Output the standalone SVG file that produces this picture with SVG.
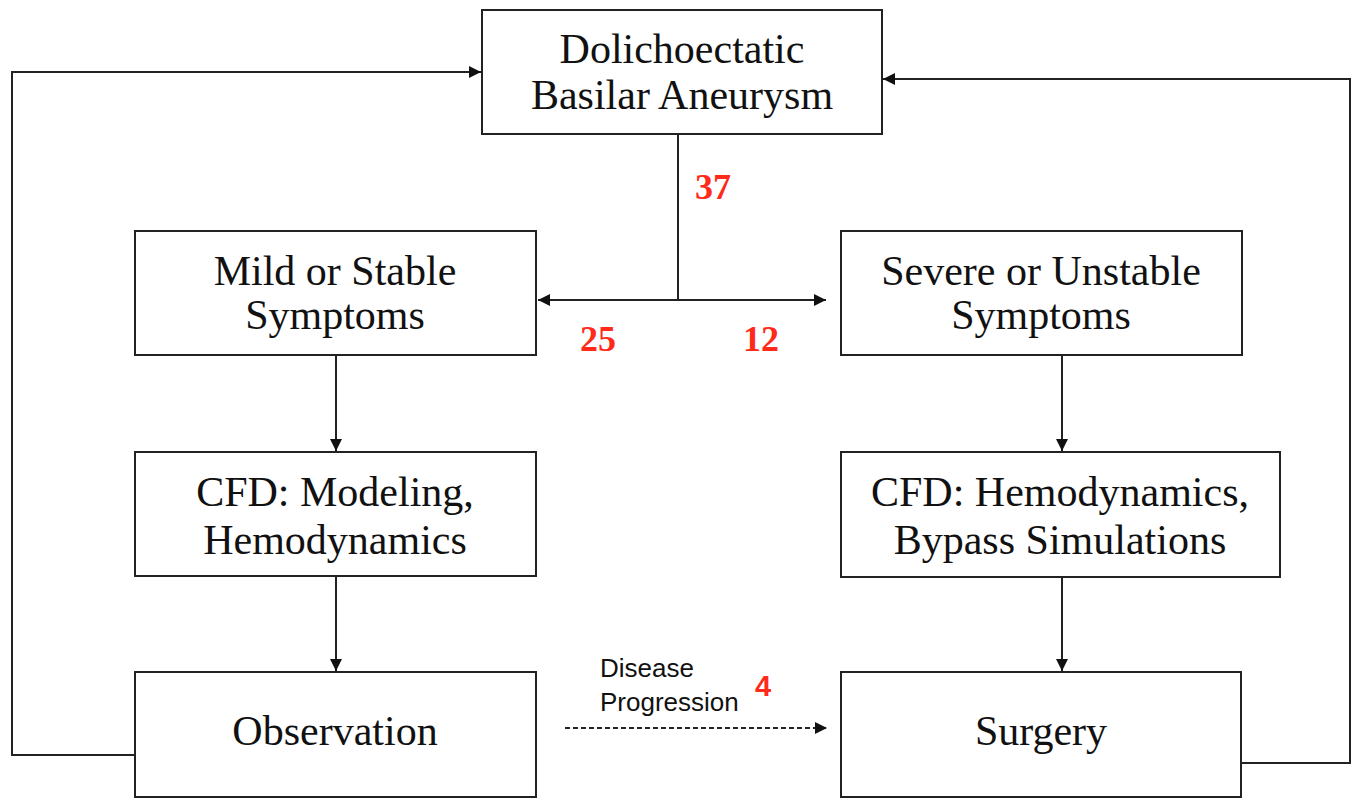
<svg xmlns="http://www.w3.org/2000/svg" width="1356" height="798" viewBox="0 0 1356 798">
  <style>
    .box { fill: #ffffff; stroke: #222222; stroke-width: 2; }
    .lbl { font-family: "Liberation Serif", "Times New Roman", serif; font-size: 42px; fill: #111111; text-anchor: middle; }
    .num { font-family: "Liberation Serif", "Times New Roman", serif; font-size: 36px; font-weight: bold; fill: #ff2a1a; }
    .conn { fill: none; stroke: #222222; stroke-width: 2; }
    .dash { fill: none; stroke: #222222; stroke-width: 2; stroke-dasharray: 5 3; }
    .side { font-family: "Liberation Sans", Arial, sans-serif; font-size: 26px; fill: #111111; }
    .num4 { font-family: "Liberation Sans", Arial, sans-serif; font-size: 29px; font-weight: bold; fill: #ff2a1a; }
  </style>
  <defs>
    <marker id="arr" markerWidth="14" markerHeight="14" refX="12" refY="6" orient="auto" markerUnits="userSpaceOnUse">
      <path d="M0,0 L12,6 L0,12 Z" fill="#111111"/>
    </marker>
  </defs>
  <rect width="1356" height="798" fill="#ffffff"/>

  <g id="connectors">
    <path class="conn" d="M135,755 L12,755 L12,72 L481,72" marker-end="url(#arr)"/>
    <path class="conn" d="M1241,763 L1350,763 L1350,79 L883,79" marker-end="url(#arr)"/>
    <path class="conn" d="M678,134 L678,300"/>
    <path class="conn" d="M678,300 L538,300" marker-end="url(#arr)"/>
    <path class="conn" d="M678,300 L826,300" marker-end="url(#arr)"/>
    <path class="conn" d="M336,355 L336,451" marker-end="url(#arr)"/>
    <path class="conn" d="M336,576 L336,671" marker-end="url(#arr)"/>
    <path class="conn" d="M1062,355 L1062,451" marker-end="url(#arr)"/>
    <path class="conn" d="M1062,577 L1062,671" marker-end="url(#arr)"/>
    <path class="dash" d="M565,728 L827,728" marker-end="url(#arr)"/>
    <text class="num" x="695" y="199">37</text>
    <text class="num" x="580" y="351">25</text>
    <text class="num" x="743" y="351">12</text>
    <text class="side" x="600" y="677">Disease</text>
    <text class="side" x="600" y="711">Progression</text>
    <text class="num4" x="755" y="696">4</text>
  </g>

  <g id="node-aneurysm">
    <rect class="box" x="482" y="10" width="400" height="124"/>
    <text class="lbl" x="682" y="63">Dolichoectatic</text>
    <text class="lbl" x="682" y="109">Basilar Aneurysm</text>
  </g>

  <g id="node-mild">
    <rect class="box" x="135" y="231" width="401" height="124"/>
    <text class="lbl" x="335" y="285">Mild or Stable</text>
    <text class="lbl" x="335" y="329">Symptoms</text>
  </g>

  <g id="node-severe">
    <rect class="box" x="841" y="231" width="401" height="124"/>
    <text class="lbl" x="1041" y="285">Severe or Unstable</text>
    <text class="lbl" x="1041" y="329">Symptoms</text>
  </g>

  <g id="node-cfd-left">
    <rect class="box" x="135" y="452" width="401" height="124"/>
    <text class="lbl" x="335" y="506">CFD: Modeling,</text>
    <text class="lbl" x="335" y="554">Hemodynamics</text>
  </g>

  <g id="node-cfd-right">
    <rect class="box" x="841" y="452" width="439" height="125"/>
    <text class="lbl" x="1060" y="506">CFD: Hemodynamics,</text>
    <text class="lbl" x="1060" y="554">Bypass Simulations</text>
  </g>

  <g id="node-observation">
    <rect class="box" x="135" y="672" width="401" height="125"/>
    <text class="lbl" x="335" y="745">Observation</text>
  </g>

  <g id="node-surgery">
    <rect class="box" x="841" y="672" width="400" height="125"/>
    <text class="lbl" x="1041" y="745">Surgery</text>
  </g>
</svg>
